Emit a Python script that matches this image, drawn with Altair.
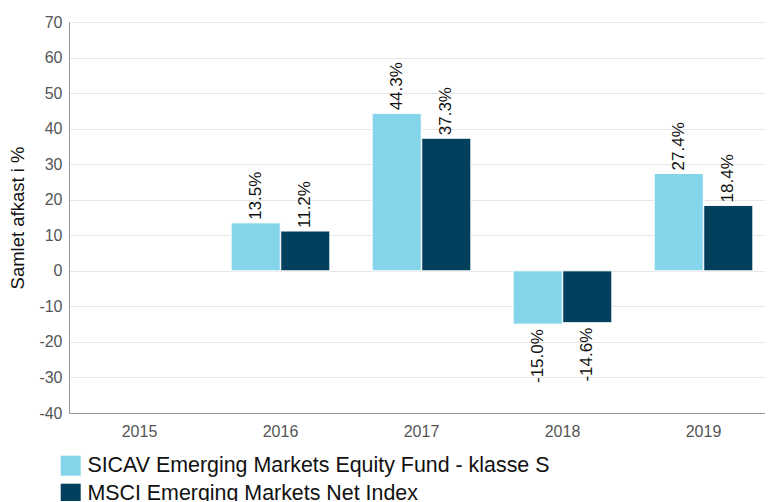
import altair as alt
import pandas as pd

years = ["2015", "2016", "2017", "2018", "2019"]
series_names = ["SICAV Emerging Markets Equity Fund - klasse S", "MSCI Emerging Markets Net Index"]
fund_values = [None, 13.5, 44.3, -15.0, 27.4]
index_values = [None, 11.2, 37.3, -14.6, 18.4]
colors = ["#84D5E9", "#02405E"]

rows = []
for y, f, i in zip(years, fund_values, index_values):
    if f is not None:
        rows.append({"year": y, "series": series_names[0], "value": f})
    if i is not None:
        rows.append({"year": y, "series": series_names[1], "value": i})
df = pd.DataFrame(rows)
df["label"] = df["value"].map(lambda v: f"{v:.1f}%")

FONT = "Liberation Sans"

x_enc = alt.X("year:N", scale=alt.Scale(domain=years, paddingInner=0.3, paddingOuter=0.15, range=[0, 705]),
              axis=alt.Axis(title=None, labelAngle=0, labelFontSize=16, labelColor="#555555",
                            labelPadding=10, ticks=False, domainColor="#999999", grid=False,
                            labelFont=FONT))
y_enc = alt.Y("value:Q", scale=alt.Scale(domain=[-40, 70], nice=False),
              axis=alt.Axis(title="Samlet afkast i %", values=list(range(-40, 71, 10)),
                            labelExpr="toString(datum.value)",
                            labelFontSize=16, labelColor="#555555", labelPadding=7,
                            ticks=False, domainColor="#999999", gridColor="#e6e6e6",
                            titleFontSize=18.5, titleFontWeight="normal", titleColor="#111111",
                            titlePadding=11, titleFont=FONT, labelFont=FONT))
xoff = alt.XOffset("series:N", scale=alt.Scale(domain=series_names, paddingInner=0.01))

bars = alt.Chart(df).mark_bar(stroke="white", strokeWidth=1).encode(
    x=x_enc,
    xOffset=xoff,
    y=y_enc,
    color=alt.Color("series:N", scale=alt.Scale(domain=series_names, range=colors),
                    legend=alt.Legend(title=None, orient="none", legendX=-9, legendY=433,
                                      direction="vertical", symbolType="square",
                                      symbolSize=400, symbolStrokeWidth=0,
                                      labelFontSize=21.4, labelColor="#111111", labelFont=FONT,
                                      rowPadding=5, labelLimit=800, symbolOffset=0, labelOffset=6)),
)

pos = alt.Chart(df).transform_filter("datum.value >= 0").mark_text(
    angle=270, align="left", baseline="middle", dx=3, fontSize=17, font=FONT, color="#111111"
).encode(x=x_enc, xOffset=xoff, y=y_enc, text="label:N")

neg = alt.Chart(df).transform_filter("datum.value < 0").mark_text(
    angle=270, align="right", baseline="middle", dx=-5, fontSize=17, font=FONT, color="#111111"
).encode(x=x_enc, xOffset=xoff, y=y_enc, text="label:N")

chart = alt.layer(bars, pos, neg).properties(
    width=696, height=391,
    autosize=alt.AutoSizeParams(type="none"),
    padding={"left": 61, "top": 14, "right": 0, "bottom": 88},
).configure_view(stroke=None).configure(font=FONT)

chart.save("out.html", embed_options={"renderer": "svg", "actions": False})
